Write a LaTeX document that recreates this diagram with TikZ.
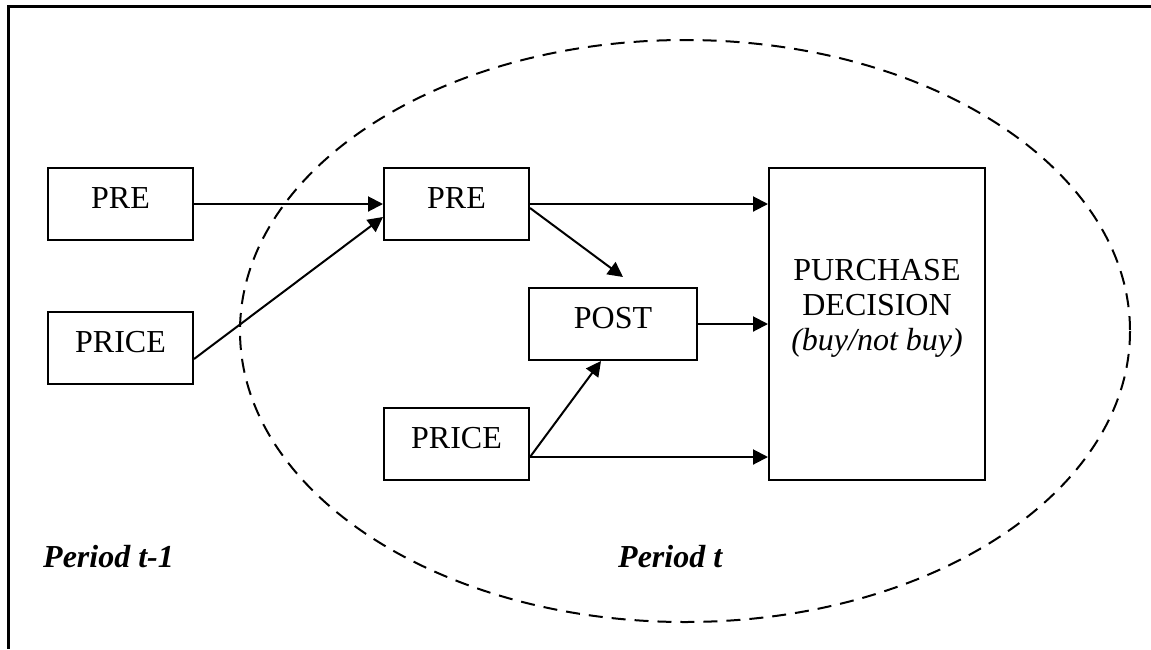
\documentclass[tikz,border=0pt]{standalone}
\usepackage{fontspec}
\setmainfont{Liberation Serif}
\usetikzlibrary{arrows.meta,calc}
\begin{document}
\begin{tikzpicture}[x=1pt,y=-1pt,
  txt/.style={font=\fontsize{32}{35}\selectfont},
  box/.style={draw, line width=2pt, minimum width=145pt, minimum height=72pt, inner sep=0pt, txt, text height=21pt, text depth=13pt},
  arr/.style={line width=2pt, -{Triangle[length=15pt,width=15pt]}},
  period/.style={font=\fontsize{32}{35}\selectfont\bfseries\itshape, anchor=base west, inner sep=0pt},
  oval/.style={line width=2pt, dash pattern=on 14pt off 9pt}
]
\useasboundingbox (0,0) rectangle (1151,649);
\draw[line width=2.4pt] (1151,6.5) -- (8.5,6.5) -- (8.5,649);
\draw[oval] (685,331) ellipse [x radius=445, y radius=291];

\node[box] (preA) at (120.5,204) {PRE};
\node[box] (priceA) at (120.5,348) {PRICE};
\node[box] (preB) at (456.5,204) {PRE};
\node[box, minimum width=168pt] (post) at (613,324) {POST};
\node[box] (priceB) at (456.5,444) {PRICE};
\node[draw, line width=2pt, minimum width=216pt, minimum height=312pt, inner sep=0pt] (pd) at (877,324) {};
\node[txt, align=center, inner sep=0pt] (pdtext) at (877,308) {PURCHASE\\DECISION\\\textit{(buy/not buy)}};

\coordinate (priceAout) at ($(priceA.east)+(0,11)$);
\coordinate (preBin) at ($(preB.west)+(0,13)$);
\coordinate (preBout) at ($(preB.east)+(0,4)$);
\coordinate (postin) at ($(post.north)+(10,-10)$);
\coordinate (priceBout) at ($(priceB.east)+(0,13)$);
\coordinate (postinB) at ($(post.south)+(-12,0)$);

\draw[arr] (preA.east) -- (preB.west);
\draw[arr] (priceAout) -- (preBin);
\draw[arr] (preB.east) -- (pd.west |- preB.east);
\draw[arr] (preBout) -- (postin);
\draw[arr] (post.east) -- (pd.west |- post.east);
\draw[arr] (priceBout) -- (postinB);
\draw[arr] (priceBout) -- (pd.west |- priceBout);

\node[period] (pt1) at (43,567) {Period t-1};
\node[period] (pt) at (618,567) {Period t};
\end{tikzpicture}
\end{document}
